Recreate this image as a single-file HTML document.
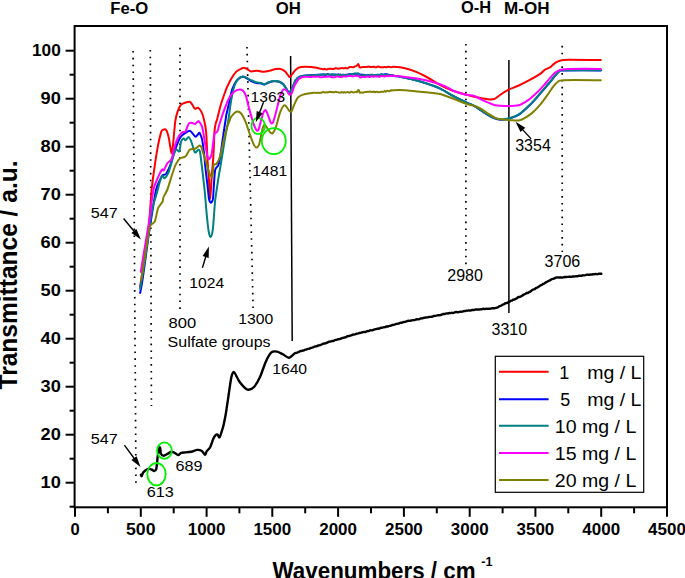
<!DOCTYPE html>
<html><head><meta charset="utf-8"><title>FTIR</title>
<style>
html,body{margin:0;padding:0;background:#fff;}
body{width:685px;height:578px;overflow:hidden;}
svg{display:block;}
text{font-family:"Liberation Sans",sans-serif;fill:#000;}
.b{font-weight:bold;}
.c{fill:none;stroke-width:2;stroke-linejoin:round;stroke-linecap:round;}
.d{stroke:#000;stroke-width:1.7;stroke-dasharray:1.6 5.23;fill:none;}
.g{fill:none;stroke:#00f000;stroke-width:1.8;}
</style></head><body>
<svg width="685" height="578" viewBox="0 0 685 578">
<rect width="685" height="578" fill="#fff"/>
<g class="d">
<line x1="133.1" y1="51" x2="136.0" y2="484"/>
<line x1="150.3" y1="49.9" x2="151.4" y2="406"/>
<line x1="180" y1="47.8" x2="180" y2="309"/>
<line x1="247" y1="47" x2="253.1" y2="308"/>
<line x1="465.9" y1="44" x2="465.9" y2="266"/>
<line x1="562.2" y1="45.8" x2="562.2" y2="252"/>
</g>
<line x1="290.6" y1="56" x2="292.2" y2="341" stroke="#000" stroke-width="1.5"/>
<line x1="508.9" y1="60" x2="508.9" y2="313" stroke="#000" stroke-width="1.5"/>
<path class="c" stroke="#ff0000" d="M140.1,287.0C140.5,284.5 142.2,273.2 143.0,268.0C143.8,262.8 145.2,253.7 146.0,248.0C146.8,242.3 148.3,232.7 149.0,225.0C149.7,217.3 150.9,197.4 151.6,190.0C152.3,182.6 153.4,175.3 154.2,169.6C155.0,163.9 156.8,152.1 157.7,147.1C158.6,142.1 160.4,134.7 161.1,132.4C161.8,130.1 162.2,130.1 162.9,129.8C163.6,129.5 165.5,129.0 166.3,130.1C167.1,131.2 168.2,135.3 168.9,138.4C169.6,141.5 170.9,152.6 171.5,153.1C172.1,153.6 172.8,146.2 173.3,141.9C173.8,137.6 174.7,125.1 175.3,121.1C175.9,117.1 176.8,113.8 177.6,111.6C178.4,109.4 180.1,105.8 181.0,104.7C181.9,103.6 183.3,103.4 184.5,103.0C185.7,102.6 188.7,101.6 189.7,101.8C190.7,102.0 191.6,103.8 192.3,104.7C193.0,105.6 194.1,108.3 194.9,108.7C195.7,109.1 197.4,107.4 198.3,107.8C199.2,108.2 200.6,110.3 201.3,111.6C202.0,112.9 202.9,115.0 203.5,117.7C204.1,120.4 205.6,125.7 206.1,131.5C206.6,137.3 207.2,154.9 207.6,161.5C208.0,168.1 208.7,176.0 209.0,180.9C209.3,185.8 209.6,197.3 209.9,198.5C210.2,199.7 210.6,193.1 210.9,190.0C211.2,186.9 211.5,179.4 211.8,175.4C212.1,171.4 212.8,163.8 213.1,160.1C213.4,156.4 213.6,151.6 213.8,147.7C214.0,143.8 214.2,134.4 214.5,131.1C214.8,127.8 215.5,124.4 215.9,122.8C216.3,121.2 217.1,119.7 217.3,119.0C217.5,118.3 217.1,119.2 217.6,117.3C218.1,115.4 220.0,107.7 220.8,104.8C221.6,101.9 223.1,97.8 223.9,95.5C224.7,93.2 226.0,89.4 227.0,87.2C228.0,85.0 229.9,81.0 231.1,78.9C232.3,76.8 234.9,73.0 236.3,71.6C237.7,70.2 240.4,69.0 241.5,68.5C242.6,68.0 243.9,67.8 244.6,67.9C245.3,68.0 246.1,68.6 247.0,69.1C247.9,69.6 249.7,71.2 251.1,71.4C252.5,71.6 255.6,70.6 257.3,70.7C259.0,70.8 261.9,71.8 263.6,71.8C265.3,71.8 268.1,71.1 269.8,70.7C271.5,70.3 274.5,69.3 276.0,69.1C277.5,68.9 279.9,68.7 281.2,69.1C282.5,69.5 284.3,70.7 285.4,71.8C286.5,72.9 288.7,76.6 289.5,77.0C290.3,77.4 290.8,75.9 291.6,74.9C292.4,73.9 294.5,70.8 295.7,69.7C296.9,68.6 298.8,67.4 300.9,67.0C303.0,66.6 308.7,66.7 311.7,67.0C314.7,67.3 321.7,69.0 323.4,69.2C325.1,69.4 324.3,68.8 324.7,68.8C325.0,68.8 325.6,69.3 326.0,69.4C326.3,69.5 326.9,69.4 327.3,69.3C327.6,69.2 328.2,68.8 328.6,68.8C328.9,68.7 329.5,68.9 329.8,68.9C330.2,68.9 330.8,68.8 331.1,68.8C331.5,68.8 332.1,68.9 332.4,68.9C332.8,69.0 333.4,69.1 333.7,69.0C334.1,68.9 334.7,68.4 335.0,68.3C335.3,68.2 336.0,68.1 336.3,68.2C336.6,68.3 337.3,68.8 337.6,68.8C337.9,68.9 338.6,68.4 338.9,68.4C339.2,68.4 339.9,68.7 340.2,68.6C340.5,68.6 341.2,67.9 341.5,67.9C341.8,67.8 342.5,68.1 342.8,68.2C343.1,68.2 343.8,68.4 344.1,68.4C344.4,68.3 345.1,67.8 345.4,67.8C345.7,67.8 346.3,68.4 346.7,68.4C347.1,68.4 347.7,68.3 348.0,68.1C348.4,68.0 349.0,67.3 349.4,67.1C349.7,67.0 350.3,66.9 350.7,66.9C351.0,66.9 351.7,67.1 352.0,67.1C352.4,67.2 353.0,67.3 353.3,67.3C353.7,67.2 354.3,66.7 354.7,66.5C355.0,66.4 355.7,66.3 356.0,66.1C356.3,66.0 356.9,65.7 357.2,65.4C357.5,65.1 358.2,64.0 358.4,64.1C358.6,64.1 358.8,65.3 359.0,65.7C359.2,66.2 359.3,67.2 359.6,67.4C359.9,67.7 360.6,67.5 360.9,67.4C361.2,67.4 361.9,67.1 362.2,67.1C362.5,67.0 363.2,67.0 363.5,67.0C363.8,67.0 364.5,66.9 364.8,66.9C365.1,66.9 365.8,67.0 366.1,67.0C366.4,67.0 367.1,66.9 367.4,66.8C367.7,66.7 368.4,66.4 368.7,66.5C369.0,66.5 369.7,67.0 370.0,67.1C370.3,67.2 371.0,66.9 371.3,66.9C371.7,66.9 372.3,67.0 372.6,67.0C373.0,66.9 373.6,66.5 373.9,66.6C374.3,66.6 374.9,67.2 375.2,67.3C375.6,67.4 376.2,67.3 376.6,67.2C376.9,67.1 377.5,66.6 377.9,66.6C378.2,66.5 378.8,66.7 379.2,66.8C379.5,66.9 380.1,67.1 380.5,67.2C380.8,67.2 381.5,67.2 381.8,67.2C382.1,67.2 382.8,67.4 383.1,67.4C383.4,67.3 384.1,66.9 384.4,66.9C384.7,66.9 385.4,67.2 385.7,67.2C386.0,67.3 386.7,67.1 387.0,67.1C387.3,67.0 388.0,66.7 388.3,66.7C388.6,66.7 389.3,66.9 389.6,66.9C389.9,67.0 390.6,67.2 390.9,67.2C391.2,67.2 391.9,67.2 392.2,67.1C392.5,67.1 391.8,66.7 393.5,66.8C395.2,66.9 401.9,67.5 405.0,68.2C408.1,68.9 413.7,70.9 416.8,72.2C419.9,73.5 425.4,76.3 428.5,78.0C431.6,79.7 436.9,83.3 440.2,85.0C443.5,86.7 449.6,89.4 453.1,90.7C456.6,92.0 462.8,93.8 466.3,94.7C469.8,95.6 476.3,97.2 479.4,97.8C482.5,98.4 487.8,99.3 489.9,99.4C492.0,99.5 493.8,99.2 495.2,98.6C496.6,98.0 498.7,95.9 500.4,94.7C502.1,93.5 505.8,91.1 508.3,89.9C510.8,88.7 516.0,86.8 518.8,85.5C521.6,84.2 526.5,81.7 529.3,80.2C532.1,78.7 537.7,75.6 539.8,74.2C541.9,72.8 543.7,70.6 545.1,69.7C546.5,68.8 549.0,68.0 550.4,67.1C551.8,66.2 554.2,63.5 555.6,62.6C557.0,61.7 559.2,60.9 560.9,60.5C562.6,60.1 563.4,59.8 568.7,59.7C574.0,59.6 596.5,60.0 600.8,60.0"/>
<path class="c" stroke="#0000ff" d="M140.1,293.0C140.4,291.7 141.3,287.1 142.0,283.0C142.7,278.9 144.2,267.7 145.0,262.0C145.8,256.3 147.2,245.6 148.0,240.0C148.8,234.4 149.9,226.7 151.0,220.0C152.1,213.3 154.8,195.3 156.0,190.0C157.2,184.7 159.1,182.0 160.0,180.0C160.9,178.0 162.2,175.8 163.0,175.0C163.8,174.2 165.1,175.2 166.0,174.0C166.9,172.8 169.0,168.4 170.0,166.0C171.0,163.6 172.4,158.4 173.3,155.7C174.2,153.0 175.8,147.8 176.7,145.4C177.6,143.0 179.3,139.1 180.2,137.6C181.1,136.1 182.3,135.0 183.6,134.1C184.9,133.2 188.4,130.7 189.7,130.7C191.0,130.7 192.3,133.3 193.1,134.1C193.9,134.9 194.9,136.9 195.7,136.7C196.5,136.5 198.6,133.3 199.2,132.9C199.8,132.5 199.6,132.9 200.0,133.8C200.4,134.7 201.5,136.6 202.1,139.4C202.7,142.2 203.7,150.7 204.2,154.6C204.7,158.5 205.0,164.2 205.5,168.4C206.0,172.6 207.1,182.3 207.6,186.4C208.1,190.5 208.6,196.8 209.0,199.0C209.4,201.2 210.3,202.5 210.7,202.8C211.1,203.1 212.0,201.6 212.3,201.0C212.6,200.4 212.9,199.9 213.1,198.0C213.3,196.1 213.5,190.2 213.8,186.4C214.1,182.6 214.6,172.6 215.2,169.8C215.8,167.0 217.4,166.8 218.0,165.7C218.6,164.6 218.9,163.9 219.4,161.5C219.9,159.1 221.0,151.4 221.5,147.7C222.0,144.0 223.0,137.5 223.5,133.8C224.0,130.1 225.2,122.5 225.6,120.0C226.0,117.5 225.8,117.3 226.3,115.0C226.8,112.7 228.3,106.2 229.1,102.8C229.9,99.4 231.2,92.2 232.2,89.3C233.2,86.4 235.2,82.6 236.3,81.0C237.4,79.4 239.5,78.0 240.5,77.4C241.5,76.8 242.9,76.7 243.6,76.8C244.3,76.9 244.9,77.2 245.9,77.8C246.9,78.4 249.7,80.3 251.1,81.0C252.5,81.7 254.9,82.7 256.3,83.0C257.7,83.3 260.4,83.4 261.5,83.6C262.6,83.8 263.6,84.6 264.6,84.5C265.6,84.4 267.6,82.9 268.8,82.5C270.0,82.1 272.5,81.4 273.9,81.3C275.3,81.2 277.8,81.3 279.1,81.7C280.4,82.1 282.2,83.0 283.3,84.2C284.4,85.4 286.6,89.4 287.4,90.5C288.2,91.6 288.8,92.9 289.5,92.5C290.2,92.1 291.8,89.0 292.6,87.3C293.4,85.6 294.7,81.5 295.7,80.1C296.7,78.7 298.4,77.2 299.9,76.6C301.4,76.0 304.0,75.8 307.1,75.5C310.2,75.2 321.1,74.6 323.4,74.5C325.7,74.4 324.3,74.9 324.6,74.9C325.0,75.0 325.5,75.0 325.9,74.9C326.2,74.8 326.8,74.2 327.1,74.1C327.4,74.0 328.0,74.1 328.3,74.2C328.6,74.3 329.2,74.8 329.5,74.9C329.9,75.0 330.4,74.8 330.8,74.8C331.1,74.8 331.7,74.8 332.0,74.8C332.3,74.7 332.9,74.5 333.2,74.5C333.5,74.5 334.1,74.7 334.4,74.7C334.8,74.8 335.3,74.8 335.7,74.8C336.0,74.8 336.6,74.8 336.9,74.7C337.2,74.7 337.8,74.4 338.1,74.4C338.4,74.4 339.0,74.6 339.3,74.6C339.7,74.7 340.2,74.6 340.6,74.6C340.9,74.7 341.5,74.9 341.8,74.9C342.1,75.0 342.7,75.2 343.0,75.2C343.3,75.2 343.9,75.2 344.2,75.2C344.6,75.1 345.1,74.9 345.5,74.8C345.8,74.8 346.4,74.8 346.7,74.8C347.0,74.7 347.7,74.5 348.0,74.4C348.3,74.4 349.0,74.2 349.3,74.1C349.6,74.0 350.3,73.9 350.6,73.9C350.9,74.0 351.6,74.2 351.9,74.2C352.2,74.2 352.9,74.0 353.2,73.9C353.5,73.9 354.2,73.8 354.5,73.8C354.8,73.9 355.5,74.2 355.8,74.1C356.1,74.1 356.8,73.7 357.1,73.7C357.4,73.6 358.0,73.4 358.4,73.6C358.8,73.7 359.6,74.6 360.0,74.8C360.4,74.9 360.9,74.6 361.2,74.6C361.6,74.6 362.2,74.9 362.5,74.9C362.8,74.9 363.4,74.7 363.8,74.7C364.1,74.8 364.7,75.0 365.0,75.1C365.3,75.2 365.9,75.5 366.2,75.6C366.6,75.6 367.2,75.4 367.5,75.3C367.8,75.2 368.4,74.9 368.8,74.9C369.1,74.9 369.7,75.5 370.0,75.6C370.3,75.6 370.9,75.4 371.3,75.4C371.6,75.4 372.2,75.3 372.5,75.3C372.9,75.3 373.4,75.4 373.8,75.4C374.1,75.3 374.7,75.2 375.0,75.2C375.4,75.1 376.0,75.2 376.3,75.1C376.6,75.0 377.2,74.6 377.6,74.7C377.9,74.7 378.5,75.1 378.8,75.1C379.2,75.2 379.8,75.2 380.1,75.1C380.4,74.9 381.0,74.3 381.4,74.3C381.7,74.2 382.3,74.7 382.6,74.7C383.0,74.8 383.5,74.7 383.9,74.6C384.2,74.6 384.8,74.4 385.1,74.3C385.5,74.3 386.1,74.3 386.4,74.3C386.7,74.3 387.3,74.4 387.7,74.5C388.0,74.6 388.6,75.0 389.0,75.1C389.3,75.2 389.9,74.9 390.3,74.9C390.6,75.0 391.2,75.4 391.6,75.4C391.9,75.5 392.5,75.2 392.8,75.2C393.2,75.3 393.8,75.8 394.1,75.9C394.5,76.0 395.1,76.1 395.4,76.1C395.8,76.1 396.4,75.9 396.7,76.0C397.1,76.0 396.0,75.8 398.0,76.2C400.0,76.6 408.3,78.3 412.0,79.2C415.7,80.1 422.2,81.9 426.0,83.2C429.8,84.5 436.6,86.9 440.2,88.6C443.8,90.3 449.6,94.1 453.1,96.0C456.6,97.9 463.7,101.3 466.3,102.5C468.9,103.7 471.1,104.3 472.8,105.2C474.5,106.1 477.5,108.0 479.4,109.3C481.3,110.6 485.2,113.4 487.3,114.6C489.4,115.8 493.1,117.9 495.2,118.6C497.3,119.3 501.0,119.9 503.1,119.8C505.2,119.7 508.8,118.7 510.9,118.0C513.0,117.3 516.7,115.9 518.8,114.6C520.9,113.3 524.6,109.9 526.7,108.0C528.8,106.1 532.5,102.4 534.6,100.1C536.7,97.8 540.4,93.4 542.5,90.9C544.6,88.4 548.7,83.8 550.4,81.7C552.1,79.6 554.4,76.6 555.6,75.2C556.8,73.8 558.4,71.8 559.5,71.2C560.6,70.6 558.0,70.5 563.5,70.4C569.0,70.3 595.8,70.4 600.8,70.4"/>
<path class="c" stroke="#008080" d="M140.1,289.0C140.5,286.7 142.2,276.9 143.0,272.0C143.8,267.1 145.2,257.6 146.0,252.0C146.8,246.4 148.1,235.9 149.0,230.0C149.9,224.1 151.4,213.0 152.5,208.0C153.6,203.0 156.1,195.8 157.0,192.5C157.9,189.2 158.8,185.3 159.5,183.0C160.2,180.7 161.3,176.2 162.0,175.6C162.7,175.0 163.7,178.8 164.6,178.2C165.5,177.6 167.9,173.8 168.9,171.3C169.9,168.8 171.5,162.1 172.4,159.2C173.3,156.3 174.9,150.7 175.8,149.7C176.7,148.7 178.6,152.4 179.3,151.4C180.0,150.4 180.4,143.6 181.0,141.9C181.6,140.2 183.0,138.6 183.6,138.4C184.2,138.2 184.7,140.4 185.4,140.2C186.1,140.0 188.0,136.9 188.8,137.1C189.6,137.3 190.6,139.9 191.4,141.9C192.2,143.9 194.0,151.3 194.9,152.3C195.8,153.3 197.6,149.8 198.3,149.7C199.0,149.6 199.5,149.3 200.0,151.8C200.5,154.3 201.5,163.8 202.1,168.4C202.7,173.0 203.7,182.2 204.2,186.4C204.7,190.6 205.2,196.5 205.5,200.0C205.8,203.5 206.2,208.8 206.6,213.0C207.0,217.2 208.2,228.5 208.7,231.7C209.2,234.9 210.2,237.2 210.7,236.9C211.2,236.6 212.4,232.5 212.8,229.6C213.2,226.7 213.7,218.9 214.0,215.0C214.3,211.1 214.7,204.5 215.2,200.0C215.7,195.5 217.3,185.7 218.0,180.9C218.7,176.1 220.1,168.7 220.8,164.3C221.5,159.9 222.8,152.1 223.5,147.7C224.2,143.3 225.6,134.8 226.3,131.1C227.0,127.4 227.8,124.1 228.4,120.0C229.0,115.9 230.3,105.2 231.1,100.7C231.9,96.2 233.3,89.0 234.3,86.1C235.3,83.2 237.3,80.2 238.4,78.9C239.5,77.6 241.6,76.6 242.6,76.4C243.6,76.2 244.8,76.9 245.9,77.4C247.0,77.9 249.7,79.5 251.1,80.1C252.5,80.7 254.9,81.8 256.3,82.2C257.7,82.6 260.4,82.9 261.5,83.2C262.6,83.5 263.6,84.3 264.6,84.2C265.6,84.1 267.6,82.6 268.8,82.2C270.0,81.8 272.5,81.2 273.9,81.1C275.3,81.0 277.8,81.1 279.1,81.5C280.4,81.9 282.2,83.0 283.3,84.2C284.4,85.4 286.6,89.4 287.4,90.5C288.2,91.6 288.8,92.9 289.5,92.5C290.2,92.1 291.8,89.0 292.6,87.3C293.4,85.6 294.7,81.5 295.7,80.1C296.7,78.7 298.4,77.2 299.9,76.6C301.4,76.0 304.0,75.8 307.1,75.5C310.2,75.2 321.1,74.7 323.4,74.5C325.7,74.3 324.3,74.3 324.6,74.3C325.0,74.3 325.5,74.6 325.9,74.6C326.2,74.6 326.8,74.4 327.1,74.5C327.4,74.5 328.0,74.7 328.3,74.7C328.6,74.7 329.2,74.8 329.5,74.7C329.9,74.7 330.4,74.3 330.8,74.3C331.1,74.2 331.7,74.1 332.0,74.2C332.3,74.3 332.9,75.0 333.2,75.0C333.5,75.1 334.1,74.6 334.4,74.5C334.8,74.5 335.3,74.4 335.7,74.5C336.0,74.6 336.6,75.2 336.9,75.2C337.2,75.3 337.8,74.8 338.1,74.8C338.4,74.8 339.0,75.1 339.3,75.1C339.7,75.2 340.2,74.9 340.6,74.8C340.9,74.8 341.5,75.1 341.8,75.0C342.1,75.0 342.7,74.6 343.0,74.6C343.3,74.6 343.9,75.0 344.2,75.1C344.6,75.2 345.1,75.3 345.5,75.3C345.8,75.3 346.4,75.1 346.7,75.0C347.0,75.0 347.7,75.1 348.0,75.0C348.3,75.0 349.0,74.9 349.3,74.8C349.6,74.7 350.3,74.1 350.6,74.1C350.9,74.0 351.6,74.5 351.9,74.5C352.2,74.5 352.9,74.3 353.2,74.2C353.5,74.1 354.2,73.9 354.5,73.8C354.8,73.6 355.5,73.3 355.8,73.3C356.1,73.4 356.8,73.9 357.1,73.9C357.4,73.9 358.1,73.3 358.4,73.4C358.7,73.5 359.0,74.2 359.2,74.5C359.4,74.8 359.7,75.4 360.0,75.5C360.3,75.7 360.9,75.4 361.2,75.4C361.6,75.4 362.2,75.6 362.5,75.6C362.8,75.5 363.4,75.1 363.8,75.1C364.1,75.1 364.7,75.5 365.0,75.5C365.3,75.5 365.9,75.1 366.2,75.2C366.6,75.2 367.2,75.5 367.5,75.6C367.8,75.6 368.4,75.6 368.8,75.5C369.1,75.4 369.7,74.9 370.0,74.8C370.3,74.7 370.9,74.8 371.3,74.8C371.6,74.8 372.2,74.8 372.5,74.8C372.9,74.9 373.4,75.4 373.8,75.5C374.1,75.5 374.7,75.0 375.0,74.9C375.4,74.9 376.0,75.1 376.3,75.0C376.6,75.0 377.2,74.7 377.6,74.7C377.9,74.7 378.5,74.8 378.8,74.8C379.2,74.8 379.8,74.7 380.1,74.7C380.4,74.6 381.0,74.6 381.4,74.6C381.7,74.6 382.3,74.7 382.6,74.7C383.0,74.8 383.5,74.7 383.9,74.7C384.2,74.7 384.8,74.9 385.1,74.9C385.5,74.9 386.1,74.6 386.4,74.7C386.7,74.7 387.3,75.0 387.7,75.1C388.0,75.1 388.6,75.1 389.0,75.2C389.3,75.3 389.9,75.5 390.3,75.5C390.6,75.5 391.2,75.5 391.6,75.4C391.9,75.4 392.5,75.1 392.8,75.1C393.2,75.2 393.8,75.8 394.1,76.0C394.5,76.1 395.1,76.2 395.4,76.2C395.8,76.3 396.4,76.4 396.7,76.4C397.1,76.4 396.0,75.8 398.0,76.2C400.0,76.6 408.3,78.3 412.0,79.2C415.7,80.1 422.2,81.9 426.0,83.2C429.8,84.5 436.6,86.9 440.2,88.6C443.8,90.3 449.6,94.1 453.1,96.0C456.6,97.9 463.7,101.3 466.3,102.5C468.9,103.7 471.1,104.3 472.8,105.2C474.5,106.1 477.5,107.9 479.4,109.1C481.3,110.3 485.2,113.2 487.3,114.4C489.4,115.6 493.1,117.6 495.2,118.3C497.3,119.0 501.0,119.7 503.1,119.6C505.2,119.5 508.8,118.5 510.9,117.8C513.0,117.1 516.7,115.7 518.8,114.4C520.9,113.1 524.6,109.7 526.7,107.8C528.8,105.9 532.5,102.2 534.6,99.9C536.7,97.6 540.4,93.2 542.5,90.7C544.6,88.2 548.7,83.6 550.4,81.5C552.1,79.4 554.4,76.4 555.6,75.0C556.8,73.6 558.4,71.6 559.5,71.0C560.6,70.4 558.0,70.3 563.5,70.2C569.0,70.1 595.8,70.2 600.8,70.2"/>
<path class="c" stroke="#ff00ff" d="M140.8,272.0C141.1,270.1 142.3,262.3 143.0,258.0C143.7,253.7 145.2,244.8 146.0,240.0C146.8,235.2 148.0,228.7 149.0,222.0C150.0,215.3 152.2,195.8 153.4,190.0C154.6,184.2 156.6,180.9 157.7,178.2C158.8,175.5 161.2,170.6 162.0,169.6C162.8,168.6 163.0,171.2 163.7,170.4C164.4,169.6 166.2,165.0 167.2,163.5C168.2,162.0 170.6,161.2 171.5,159.2C172.4,157.2 173.3,151.6 174.1,148.8C174.9,146.0 176.6,140.6 177.6,138.4C178.6,136.2 180.9,133.3 181.9,132.4C182.9,131.5 184.5,132.7 185.4,131.5C186.3,130.3 187.9,124.8 188.8,123.7C189.7,122.6 191.5,122.8 192.3,122.9C193.1,123.0 194.1,124.3 194.9,124.1C195.7,123.9 197.6,121.3 198.3,121.1C199.0,120.9 199.5,122.0 200.0,122.8C200.5,123.6 201.5,124.9 202.1,126.9C202.7,128.9 203.7,134.9 204.2,138.0C204.7,141.1 205.7,147.6 206.2,150.4C206.7,153.2 207.8,157.8 208.3,158.8C208.8,159.8 209.5,158.8 210.0,158.1C210.5,157.4 211.4,155.1 211.8,153.2C212.2,151.3 212.7,146.1 213.1,143.5C213.5,140.9 213.9,135.4 214.5,133.8C215.1,132.2 216.7,132.7 217.3,131.8C217.9,130.9 218.2,128.5 218.7,126.9C219.2,125.3 220.1,122.2 220.8,120.0C221.5,117.8 223.0,113.2 224.1,110.2C225.2,107.2 227.9,100.2 229.3,97.7C230.7,95.2 233.1,92.6 234.5,91.5C235.9,90.4 238.6,89.5 239.7,89.4C240.8,89.3 242.0,89.7 242.8,90.5C243.6,91.3 245.1,93.3 245.9,95.6C246.7,97.9 248.0,104.5 249.0,108.1C250.0,111.7 252.2,119.7 253.2,122.6C254.2,125.5 255.6,128.9 256.3,129.9C257.0,130.9 257.8,130.9 258.4,129.9C259.0,128.9 259.8,125.0 260.5,122.6C261.2,120.2 262.9,113.9 263.6,112.2C264.3,110.5 265.2,109.9 265.7,110.2C266.2,110.5 267.0,112.6 267.7,114.3C268.4,116.0 270.1,121.5 270.8,122.6C271.5,123.7 272.2,124.0 272.9,122.6C273.6,121.2 275.0,115.8 276.0,112.2C277.0,108.6 279.2,98.6 280.2,95.6C281.2,92.6 282.5,90.1 283.3,89.4C284.1,88.7 285.6,89.8 286.4,90.5C287.2,91.2 288.8,94.2 289.5,94.6C290.2,95.0 290.9,94.8 291.6,93.6C292.3,92.4 293.7,87.2 294.7,85.3C295.7,83.4 297.7,80.1 298.8,79.0C299.9,77.9 301.3,77.3 303.0,77.0C304.7,76.7 310.4,76.9 311.7,76.9C313.0,76.9 312.6,76.7 312.9,76.7C313.3,76.6 313.8,76.5 314.2,76.5C314.5,76.6 315.1,76.8 315.4,76.8C315.7,76.8 316.3,76.6 316.6,76.6C316.9,76.5 317.5,76.5 317.8,76.5C318.2,76.5 318.7,76.7 319.1,76.8C319.4,76.9 320.0,77.2 320.3,77.3C320.6,77.3 321.2,77.2 321.5,77.2C321.8,77.2 322.4,77.2 322.7,77.1C323.1,77.1 323.6,76.7 324.0,76.6C324.3,76.6 324.9,76.9 325.2,76.9C325.5,76.9 326.1,76.7 326.4,76.7C326.7,76.7 327.3,76.6 327.6,76.6C328.0,76.6 328.5,76.5 328.9,76.5C329.2,76.6 329.8,76.5 330.1,76.6C330.4,76.7 331.0,77.2 331.3,77.3C331.6,77.4 332.2,77.2 332.5,77.2C332.9,77.2 333.4,77.2 333.8,77.2C334.1,77.2 334.7,77.3 335.0,77.2C335.3,77.1 335.9,76.6 336.2,76.6C336.6,76.5 337.1,76.6 337.5,76.6C337.8,76.6 338.4,76.8 338.7,76.8C339.0,76.9 339.6,76.8 339.9,76.9C340.3,76.9 340.8,76.9 341.2,76.9C341.5,76.9 342.1,77.0 342.4,76.9C342.7,76.8 343.3,76.1 343.6,76.1C343.9,76.0 344.5,76.4 344.9,76.5C345.2,76.5 345.8,76.5 346.1,76.5C346.4,76.5 347.0,76.3 347.3,76.3C347.6,76.2 348.2,75.9 348.5,75.9C348.9,75.9 349.5,76.1 349.8,76.1C350.1,76.1 350.7,75.7 351.0,75.7C351.3,75.7 351.9,76.3 352.2,76.4C352.6,76.5 353.1,76.3 353.5,76.3C353.8,76.2 354.4,76.0 354.7,75.9C355.0,75.8 355.6,75.6 355.9,75.6C356.3,75.7 356.8,76.1 357.2,76.1C357.5,76.1 358.0,75.6 358.4,75.8C358.8,75.9 359.6,77.1 360.0,77.3C360.4,77.5 360.9,77.3 361.2,77.3C361.5,77.2 362.1,77.0 362.4,76.9C362.7,76.9 363.3,76.8 363.6,76.8C364.0,76.8 364.5,77.0 364.8,77.0C365.2,76.9 365.7,76.8 366.1,76.8C366.4,76.7 366.9,76.5 367.3,76.5C367.6,76.5 368.2,76.5 368.5,76.6C368.8,76.7 369.4,77.1 369.7,77.0C370.0,77.0 370.6,76.4 370.9,76.3C371.2,76.2 371.8,76.2 372.1,76.3C372.4,76.3 373.0,76.7 373.3,76.7C373.6,76.8 374.2,76.4 374.5,76.4C374.9,76.4 375.4,76.6 375.7,76.6C376.1,76.6 376.6,76.5 377.0,76.5C377.3,76.5 377.8,76.3 378.2,76.4C378.5,76.4 379.1,76.9 379.4,76.9C379.7,76.9 380.3,76.2 380.6,76.2C380.9,76.1 381.5,76.3 381.8,76.3C382.1,76.3 382.8,76.0 383.1,76.1C383.4,76.1 384.1,76.4 384.4,76.4C384.7,76.4 385.4,76.0 385.7,76.0C386.0,75.9 386.7,75.9 387.0,76.0C387.3,76.0 388.0,76.3 388.3,76.2C388.6,76.2 389.3,75.8 389.6,75.8C389.9,75.7 390.6,75.9 390.9,75.9C391.2,76.0 391.9,76.2 392.2,76.1C392.5,76.1 391.8,75.6 393.5,75.7C395.2,75.8 401.9,76.5 405.0,76.9C408.1,77.3 413.4,77.9 416.8,78.5C420.2,79.1 427.1,80.5 430.8,81.5C434.5,82.5 441.9,85.0 444.9,86.2C447.9,87.4 450.2,89.6 453.1,90.7C456.0,91.8 463.5,94.0 466.3,94.7C469.1,95.4 471.7,95.1 474.2,96.0C476.7,96.9 481.9,100.0 484.7,101.2C487.5,102.4 492.4,104.6 495.2,105.2C498.0,105.8 502.6,106.0 505.7,106.0C508.8,106.0 516.0,105.8 518.8,105.2C521.6,104.6 524.6,102.6 526.7,101.2C528.8,99.8 532.5,96.6 534.6,94.7C536.7,92.8 540.4,89.1 542.5,86.8C544.6,84.5 548.7,79.5 550.4,77.6C552.1,75.7 554.2,73.4 555.6,72.3C557.0,71.2 559.2,70.2 560.9,69.7C562.6,69.2 563.4,69.0 568.7,68.9C574.0,68.8 596.5,68.9 600.8,68.9"/>
<path class="c" stroke="#808000" d="M141.2,280.0C141.6,277.6 143.2,266.8 144.0,262.0C144.8,257.2 146.1,248.8 146.9,244.0C147.7,239.2 149.2,229.0 150.2,226.0C151.2,223.0 153.6,224.1 154.7,221.7C155.8,219.3 157.0,210.9 158.1,208.2C159.2,205.5 161.9,203.0 162.6,201.5C163.3,200.0 162.9,198.5 163.5,197.0C164.1,195.5 166.1,192.7 167.2,190.0C168.3,187.3 170.4,179.9 171.5,176.5C172.6,173.1 174.6,166.8 175.8,164.4C177.0,162.0 178.9,159.3 180.2,158.3C181.5,157.3 184.1,157.7 185.4,156.6C186.7,155.5 188.4,150.7 189.7,149.7C191.0,148.7 193.6,149.3 194.9,148.8C196.2,148.3 198.5,146.1 199.2,145.7C199.9,145.3 199.7,145.4 200.0,145.6C200.3,145.8 201.0,146.2 201.4,147.0C201.8,147.8 202.3,150.1 202.8,151.8C203.3,153.5 204.8,157.7 205.5,160.1C206.2,162.5 207.6,167.8 208.3,169.8C209.0,171.8 209.9,174.5 210.4,175.4C210.9,176.3 211.8,177.3 212.2,176.7C212.6,176.1 212.9,172.8 213.1,171.2C213.3,169.6 213.4,165.4 213.8,164.5C214.2,163.6 215.3,164.7 215.9,164.3C216.5,163.9 217.4,162.6 218.0,161.5C218.6,160.4 219.6,157.8 220.1,156.0C220.6,154.2 221.5,150.5 222.1,147.7C222.7,144.9 224.2,138.2 224.9,135.2C225.6,132.2 227.0,127.5 227.7,125.5C228.4,123.5 229.3,121.2 229.8,120.0C230.3,118.8 230.6,117.4 231.4,116.4C232.2,115.4 234.6,112.8 235.6,112.2C236.6,111.6 237.9,111.5 238.7,111.8C239.5,112.1 240.8,112.9 241.8,114.3C242.8,115.7 244.8,119.8 245.9,122.6C247.0,125.4 249.0,132.1 250.1,135.1C251.2,138.1 253.3,143.7 254.2,145.4C255.1,147.1 256.2,147.8 256.9,147.5C257.6,147.2 258.7,145.9 259.4,143.4C260.1,140.9 261.8,131.3 262.5,128.8C263.2,126.3 263.9,124.7 264.6,124.7C265.3,124.7 266.9,127.7 267.7,128.8C268.5,129.9 270.1,132.4 270.8,133.0C271.5,133.6 272.2,133.8 272.9,133.0C273.6,132.2 275.0,129.6 276.0,126.8C277.0,124.0 279.2,115.0 280.2,112.2C281.2,109.4 282.6,106.9 283.3,106.0C284.0,105.1 284.9,105.3 285.4,105.6C285.9,105.9 286.9,107.4 287.4,108.1C287.9,108.8 288.9,110.8 289.5,111.2C290.1,111.6 291.0,111.9 291.6,111.2C292.2,110.5 292.9,107.8 293.7,106.0C294.5,104.2 296.6,99.2 297.8,97.7C299.0,96.2 300.8,95.3 303.0,94.6C305.2,93.9 312.4,93.0 314.0,92.8C315.6,92.6 314.9,92.8 315.3,92.8C315.6,92.8 316.2,92.9 316.5,92.9C316.9,92.9 317.5,92.8 317.8,92.8C318.2,92.9 318.8,92.9 319.1,92.9C319.4,92.9 320.0,92.7 320.4,92.7C320.7,92.6 321.3,92.8 321.6,92.7C322.0,92.6 322.6,91.9 322.9,91.9C323.2,91.8 323.8,92.1 324.2,92.2C324.5,92.3 325.1,92.5 325.5,92.5C325.8,92.5 326.4,92.2 326.7,92.2C327.1,92.2 327.7,92.4 328.0,92.4C328.3,92.3 328.9,91.7 329.2,91.7C329.6,91.6 330.2,92.0 330.5,92.0C330.8,92.1 331.4,91.9 331.7,91.9C332.1,91.9 332.7,92.1 333.0,92.2C333.3,92.2 333.9,92.3 334.2,92.2C334.6,92.2 335.1,91.8 335.5,91.8C335.8,91.7 336.4,91.9 336.7,92.0C337.1,92.0 337.6,92.0 338.0,92.1C338.3,92.2 338.9,92.6 339.2,92.7C339.6,92.7 340.1,92.7 340.5,92.6C340.8,92.5 341.4,92.0 341.7,92.1C342.0,92.1 342.6,92.7 343.0,92.7C343.3,92.7 343.9,92.1 344.2,92.1C344.5,92.1 345.1,92.6 345.5,92.6C345.8,92.6 346.4,92.2 346.7,92.2C347.0,92.1 347.6,91.9 348.0,92.0C348.3,92.0 348.9,92.7 349.3,92.7C349.6,92.7 350.2,92.1 350.6,92.0C350.9,91.9 351.5,91.8 351.9,91.9C352.2,92.0 352.8,92.4 353.1,92.5C353.5,92.6 354.1,92.4 354.4,92.3C354.8,92.2 355.4,91.7 355.7,91.7C356.1,91.7 356.7,92.3 357.0,92.2C357.3,92.1 357.5,91.1 357.7,90.8C357.9,90.5 358.2,89.9 358.4,89.9C358.6,89.9 358.9,90.4 359.1,90.7C359.3,91.1 359.5,92.5 359.8,92.7C360.1,92.9 360.7,92.4 361.1,92.4C361.4,92.4 362.0,92.6 362.4,92.6C362.7,92.7 363.3,92.6 363.6,92.5C364.0,92.5 364.6,92.0 364.9,92.0C365.2,91.9 365.8,92.0 366.2,92.0C366.5,92.0 367.1,91.8 367.4,91.8C367.8,91.7 368.4,91.7 368.7,91.7C369.1,91.7 369.7,91.6 370.0,91.6C370.3,91.6 370.9,91.8 371.2,91.8C371.5,91.9 372.1,92.1 372.4,92.1C372.8,92.1 373.3,91.5 373.7,91.6C374.0,91.6 374.6,92.1 374.9,92.2C375.2,92.2 375.8,91.9 376.1,91.9C376.4,91.8 377.0,91.8 377.3,91.8C377.7,91.9 378.2,92.3 378.6,92.3C378.9,92.3 379.5,92.0 379.8,92.0C380.1,91.9 380.7,91.9 381.0,91.8C381.3,91.8 381.9,91.8 382.2,91.8C382.6,91.8 383.2,91.9 383.5,91.8C383.8,91.7 384.4,91.1 384.8,91.1C385.1,91.0 385.7,91.8 386.0,91.7C386.3,91.7 386.9,90.7 387.2,90.7C387.6,90.6 388.2,91.1 388.5,91.1C388.8,91.2 389.4,91.2 389.8,91.1C390.1,90.9 390.7,90.2 391.0,90.1C391.3,90.1 391.9,90.6 392.2,90.6C392.6,90.6 391.8,90.3 393.5,90.2C395.2,90.1 401.9,90.0 405.0,90.2C408.1,90.4 413.7,91.1 416.8,91.4C419.9,91.7 425.4,92.2 428.5,92.5C431.6,92.8 436.9,93.2 440.2,94.0C443.5,94.8 449.6,97.3 453.1,98.6C456.6,99.9 463.7,103.0 466.3,103.9C468.9,104.8 471.1,104.9 472.8,105.4C474.5,105.9 477.5,106.8 479.4,107.8C481.3,108.8 485.2,111.8 487.3,113.1C489.4,114.4 493.1,116.9 495.2,117.8C497.3,118.7 501.0,119.3 503.1,119.6C505.2,119.9 508.8,120.1 510.9,120.2C513.0,120.3 517.0,120.7 518.8,120.4C520.6,120.1 522.3,119.3 524.1,118.3C525.9,117.3 529.9,114.8 532.0,113.1C534.1,111.4 537.7,107.7 539.8,105.2C541.9,102.7 545.9,97.2 547.7,94.7C549.5,92.2 551.6,88.6 553.0,86.8C554.4,85.0 556.8,82.4 558.2,81.5C559.6,80.6 557.8,80.4 563.5,80.2C569.2,80.0 595.8,80.2 600.8,80.2"/>
<path class="c" stroke="#000000" style="stroke-width:2.4" d="M140.9,474.7C141.0,474.9 141.4,476.5 141.7,476.2C142.0,475.9 142.6,473.4 143.1,472.6C143.6,471.8 144.6,470.9 145.3,470.4C146.0,469.9 147.3,469.0 148.2,468.9C149.1,468.8 151.1,469.3 151.9,469.6C152.7,469.9 153.5,471.2 154.1,471.1C154.7,471.0 155.8,470.8 156.3,468.9C156.8,467.0 157.3,459.3 157.7,456.5C158.1,453.7 158.9,448.8 159.2,447.7C159.5,446.6 160.1,447.7 160.3,448.5C160.5,449.3 160.5,452.6 160.9,453.6C161.3,454.6 162.7,455.8 163.6,455.8C164.5,455.8 167.0,454.1 168.0,453.6C169.0,453.1 170.1,452.0 170.9,451.8C171.7,451.6 172.8,452.0 173.8,452.4C174.8,452.8 177.2,454.9 178.2,455.0C179.2,455.1 180.1,453.1 181.1,452.8C182.1,452.5 184.1,452.5 185.5,452.4C186.9,452.3 189.7,452.1 191.3,451.8C192.9,451.5 195.8,450.0 197.2,449.9C198.6,449.8 200.4,450.1 201.5,450.7C202.6,451.3 204.5,454.6 205.2,454.7C205.9,454.8 205.9,452.4 206.6,451.4C207.3,450.4 209.4,448.7 210.3,447.0C211.2,445.3 212.5,440.6 213.2,439.0C213.9,437.4 214.8,435.9 215.4,435.3C216.0,434.7 217.1,434.3 217.6,434.6C218.1,434.9 218.8,437.7 219.3,437.5C219.8,437.3 220.7,434.7 221.2,433.1C221.7,431.5 222.8,428.2 223.4,425.8C224.0,423.4 225.0,418.2 225.6,415.0C226.2,411.8 226.8,407.0 227.6,401.9C228.4,396.8 230.5,381.1 231.4,377.1C232.3,373.1 233.1,371.7 234.1,372.2C235.1,372.7 237.6,378.9 239.0,381.0C240.4,383.1 243.5,386.6 244.8,387.8C246.1,389.0 247.3,389.8 248.6,389.7C249.9,389.6 252.8,388.4 254.3,386.7C255.8,385.0 258.5,380.4 260.0,377.1C261.5,373.8 264.2,365.2 265.7,361.9C267.2,358.6 269.9,353.8 271.4,352.4C272.9,351.0 275.6,351.3 277.1,351.6C278.6,351.9 281.3,353.5 282.9,354.3C284.5,355.1 287.3,357.8 288.9,357.7C290.5,357.6 293.9,353.8 294.9,353.2C295.9,352.6 295.7,353.1 296.0,353.0C296.4,352.9 296.9,352.8 297.2,352.6C297.5,352.5 298.0,352.2 298.3,352.1C298.6,351.9 299.2,351.7 299.5,351.5C299.8,351.4 300.3,351.1 300.6,351.0C300.9,350.9 301.5,351.1 301.8,351.0C302.1,351.0 302.6,350.6 302.9,350.5C303.2,350.5 303.8,350.4 304.1,350.3C304.4,350.2 304.9,349.8 305.2,349.7C305.5,349.6 306.1,349.7 306.4,349.6C306.7,349.5 307.2,349.0 307.5,348.9C307.8,348.8 308.3,348.9 308.7,348.9C309.0,348.8 309.5,348.6 309.8,348.4C310.1,348.3 310.7,348.0 311.0,347.9C311.3,347.7 311.8,347.6 312.1,347.6C312.4,347.5 313.0,347.4 313.3,347.3C313.6,347.1 314.1,346.7 314.5,346.6C314.8,346.5 315.3,346.5 315.6,346.4C315.9,346.4 316.5,346.3 316.8,346.2C317.1,346.1 317.6,345.6 318.0,345.5C318.3,345.4 318.8,345.5 319.1,345.4C319.4,345.4 320.0,345.1 320.3,345.0C320.6,344.9 321.1,344.8 321.4,344.7C321.8,344.6 322.3,344.2 322.6,344.0C322.9,343.8 323.5,343.5 323.8,343.5C324.1,343.4 324.6,343.6 324.9,343.5C325.3,343.5 325.8,343.3 326.1,343.1C326.4,343.0 327.0,342.7 327.3,342.5C327.6,342.4 328.1,342.1 328.4,341.9C328.7,341.8 329.3,341.7 329.6,341.6C329.9,341.6 330.5,341.6 330.8,341.5C331.1,341.4 331.6,341.0 332.0,341.0C332.3,340.9 332.8,341.1 333.1,341.0C333.5,340.9 334.0,340.6 334.3,340.4C334.6,340.3 335.2,339.9 335.5,339.9C335.8,339.8 336.4,339.9 336.7,339.8C337.0,339.7 337.6,339.3 337.9,339.2C338.2,339.2 338.7,339.3 339.0,339.2C339.4,339.2 339.9,339.0 340.2,338.9C340.5,338.7 341.1,338.4 341.4,338.3C341.7,338.2 342.3,338.1 342.6,338.0C342.9,337.9 343.5,337.8 343.8,337.7C344.1,337.6 344.6,337.5 345.0,337.4C345.3,337.3 345.8,337.3 346.1,337.2C346.4,337.0 347.0,336.4 347.3,336.2C347.6,336.1 348.2,336.1 348.5,336.1C348.8,336.0 349.4,336.0 349.7,335.9C350.0,335.8 350.5,335.4 350.9,335.3C351.2,335.2 351.7,335.3 352.0,335.2C352.4,335.0 352.9,334.6 353.2,334.5C353.5,334.4 354.1,334.7 354.4,334.6C354.7,334.6 355.3,334.3 355.6,334.1C355.9,334.0 356.5,333.7 356.8,333.6C357.1,333.5 357.6,333.7 358.0,333.6C358.3,333.6 358.8,333.3 359.1,333.1C359.5,333.0 360.0,332.9 360.3,332.8C360.6,332.7 361.2,332.8 361.5,332.7C361.8,332.6 362.4,332.3 362.7,332.2C363.0,332.1 363.6,332.0 363.9,331.9C364.2,331.9 364.8,332.1 365.1,332.0C365.4,332.0 365.9,331.8 366.3,331.7C366.6,331.5 367.1,331.0 367.4,331.0C367.8,330.9 368.3,331.2 368.6,331.1C368.9,331.1 369.5,330.5 369.8,330.4C370.1,330.3 370.7,330.3 371.0,330.3C371.3,330.3 371.9,330.4 372.2,330.4C372.5,330.3 373.1,330.0 373.4,329.9C373.7,329.8 374.2,329.5 374.6,329.4C374.9,329.3 375.4,329.3 375.7,329.2C376.1,329.1 376.6,329.0 376.9,328.9C377.2,328.8 377.8,328.5 378.1,328.5C378.4,328.4 379.0,328.8 379.3,328.7C379.6,328.6 380.2,328.0 380.5,327.8C380.8,327.7 381.3,327.8 381.7,327.7C382.0,327.7 382.5,327.7 382.8,327.6C383.2,327.6 383.7,327.2 384.0,327.1C384.3,327.1 384.9,327.3 385.2,327.2C385.5,327.1 386.1,326.5 386.4,326.4C386.7,326.3 387.3,326.6 387.6,326.6C387.9,326.5 388.4,326.3 388.7,326.2C389.1,326.1 389.6,325.8 389.9,325.8C390.2,325.7 390.8,325.7 391.1,325.6C391.4,325.5 392.0,325.1 392.3,325.0C392.6,324.9 393.2,325.0 393.5,324.9C393.8,324.9 394.3,324.7 394.7,324.6C395.0,324.5 395.5,324.3 395.8,324.1C396.1,324.0 396.7,323.9 397.0,323.8C397.3,323.7 397.9,323.7 398.2,323.6C398.5,323.6 399.1,323.3 399.4,323.2C399.7,323.0 400.2,322.7 400.6,322.7C400.9,322.6 401.4,322.8 401.7,322.8C402.1,322.7 402.6,322.3 402.9,322.2C403.2,322.1 403.8,322.0 404.1,322.0C404.4,322.0 405.0,322.0 405.3,321.9C405.6,321.8 406.1,321.5 406.5,321.3C406.8,321.2 407.3,321.1 407.6,321.0C408.0,320.9 408.5,320.8 408.8,320.8C409.1,320.8 409.7,320.9 410.0,320.9C410.3,320.8 410.9,320.6 411.2,320.5C411.5,320.4 412.1,320.2 412.4,320.2C412.7,320.1 413.2,320.1 413.5,320.1C413.9,320.1 414.4,320.2 414.7,320.1C415.0,320.0 415.6,319.6 415.9,319.5C416.2,319.4 416.8,319.3 417.1,319.3C417.4,319.3 418.0,319.4 418.3,319.4C418.6,319.3 419.1,319.1 419.5,319.0C419.8,318.9 420.3,318.6 420.6,318.5C420.9,318.5 421.5,318.5 421.8,318.4C422.1,318.4 422.7,318.3 423.0,318.2C423.3,318.1 423.9,317.8 424.2,317.7C424.5,317.7 425.0,317.7 425.4,317.6C425.7,317.6 426.2,317.4 426.5,317.4C426.9,317.3 427.4,317.5 427.7,317.4C428.0,317.4 428.6,317.0 428.9,316.9C429.2,316.8 429.8,316.9 430.1,316.9C430.4,316.9 431.0,316.9 431.3,316.8C431.6,316.8 432.2,316.7 432.5,316.6C432.8,316.5 433.4,316.1 433.7,316.0C434.0,315.9 434.6,316.0 434.9,315.9C435.2,315.9 435.7,315.6 436.1,315.6C436.4,315.5 436.9,315.4 437.3,315.4C437.6,315.3 438.1,315.2 438.5,315.2C438.8,315.2 439.3,315.2 439.6,315.2C440.0,315.1 440.5,315.1 440.8,315.0C441.2,314.9 441.7,314.5 442.0,314.4C442.4,314.3 442.9,314.1 443.2,314.0C443.5,314.0 444.1,314.1 444.4,314.1C444.7,314.0 445.3,313.7 445.6,313.6C445.9,313.5 446.5,313.4 446.8,313.4C447.1,313.4 447.7,313.6 448.0,313.6C448.3,313.5 448.9,313.0 449.2,313.0C449.5,312.9 450.1,313.2 450.4,313.2C450.7,313.1 451.3,312.8 451.6,312.8C452.0,312.8 452.5,313.0 452.9,313.0C453.2,313.0 453.7,312.9 454.1,312.7C454.4,312.6 455.0,312.2 455.3,312.1C455.6,312.0 456.2,312.0 456.5,312.0C456.8,312.0 457.4,312.3 457.7,312.3C458.0,312.3 458.6,312.0 458.9,311.9C459.3,311.8 459.8,311.7 460.1,311.7C460.5,311.6 461.0,311.7 461.4,311.7C461.7,311.7 462.3,311.6 462.6,311.6C462.9,311.5 463.5,311.3 463.8,311.2C464.1,311.1 464.7,311.1 465.0,311.0C465.3,311.0 465.9,310.7 466.2,310.7C466.6,310.6 467.1,310.7 467.4,310.7C467.8,310.6 468.3,310.4 468.7,310.4C469.0,310.4 469.6,310.5 469.9,310.5C470.2,310.5 470.8,310.4 471.1,310.4C471.4,310.3 472.0,310.0 472.3,309.9C472.6,309.9 473.2,310.1 473.5,310.1C473.9,310.0 474.4,309.7 474.8,309.6C475.1,309.5 475.6,309.5 476.0,309.5C476.3,309.5 476.9,309.6 477.2,309.6C477.5,309.6 478.1,309.4 478.4,309.4C478.7,309.4 479.3,309.6 479.6,309.5C480.0,309.5 480.6,309.3 480.9,309.3C481.2,309.2 481.8,309.3 482.1,309.2C482.5,309.2 483.1,308.8 483.4,308.8C483.7,308.8 484.3,309.1 484.6,309.1C485.0,309.1 485.6,308.6 485.9,308.6C486.2,308.5 486.8,308.7 487.1,308.8C487.5,308.8 488.1,308.9 488.4,308.8C488.7,308.8 489.3,308.8 489.6,308.7C490.0,308.7 490.6,308.7 490.9,308.6C491.2,308.6 491.8,308.3 492.1,308.3C492.5,308.2 493.1,308.3 493.4,308.3C493.7,308.3 494.3,308.3 494.6,308.3C495.0,308.2 495.6,307.9 495.9,307.8C496.2,307.7 496.8,307.8 497.2,307.7C497.5,307.6 498.1,307.2 498.4,307.0C498.8,306.8 499.4,306.3 499.7,306.2C500.1,306.0 500.7,305.9 501.0,305.8C501.3,305.6 501.8,305.2 502.1,305.0C502.4,304.9 502.9,304.5 503.2,304.4C503.5,304.3 504.0,304.3 504.3,304.1C504.6,304.0 505.1,303.3 505.4,303.2C505.7,303.1 506.2,303.2 506.5,303.1C506.8,303.0 507.3,302.9 507.6,302.7C507.9,302.5 508.4,301.9 508.7,301.8C509.0,301.6 509.5,301.8 509.8,301.6C510.1,301.5 510.7,300.7 511.0,300.6C511.3,300.5 511.8,300.7 512.1,300.6C512.4,300.4 512.9,299.8 513.2,299.7C513.5,299.6 514.0,299.7 514.3,299.6C514.6,299.5 515.2,298.9 515.5,298.8C515.8,298.6 516.3,298.7 516.6,298.5C516.9,298.4 517.4,297.7 517.7,297.5C518.0,297.3 518.5,297.1 518.8,297.0C519.1,296.9 519.7,297.0 520.0,296.9C520.3,296.8 520.8,296.5 521.1,296.3C521.4,296.1 521.9,295.9 522.2,295.7C522.5,295.5 523.0,295.0 523.3,294.8C523.6,294.6 524.1,294.4 524.4,294.3C524.7,294.2 525.3,294.0 525.6,293.8C525.9,293.6 526.4,293.1 526.7,293.0C527.0,292.9 527.5,293.1 527.8,293.0C528.1,292.9 528.6,292.4 528.9,292.2C529.2,292.0 529.8,291.9 530.1,291.7C530.4,291.5 530.9,291.2 531.2,291.0C531.5,290.7 532.0,290.3 532.3,290.1C532.6,289.9 533.1,289.5 533.4,289.4C533.7,289.2 534.3,289.3 534.6,289.2C534.9,289.0 535.4,288.4 535.7,288.2C536.0,288.0 536.5,288.0 536.8,287.8C537.1,287.7 537.6,287.3 537.9,287.2C538.1,287.0 538.6,286.8 538.9,286.6C539.2,286.4 539.7,285.9 540.0,285.7C540.3,285.5 540.8,285.2 541.1,285.1C541.3,285.0 541.8,284.9 542.1,284.8C542.4,284.6 542.9,284.0 543.2,283.9C543.5,283.7 544.0,283.7 544.2,283.6C544.5,283.4 545.0,282.9 545.3,282.7C545.6,282.5 546.1,282.3 546.4,282.2C546.7,282.0 547.2,281.6 547.4,281.5C547.7,281.4 548.2,281.3 548.5,281.1C548.8,281.0 549.3,280.6 549.6,280.5C549.9,280.3 550.5,280.0 550.8,279.8C551.0,279.6 551.6,279.3 551.9,279.2C552.2,279.1 552.7,278.9 553.0,278.8C553.3,278.7 554.0,278.6 554.4,278.4C554.8,278.3 555.4,277.7 555.8,277.6C556.2,277.4 556.8,277.4 557.2,277.4C557.6,277.4 558.2,277.5 558.6,277.5C559.0,277.5 559.7,277.4 560.0,277.4C560.3,277.5 560.9,277.5 561.2,277.5C561.5,277.6 562.1,277.6 562.4,277.6C562.7,277.5 563.3,277.4 563.6,277.3C563.9,277.3 564.5,277.1 564.8,277.0C565.1,277.0 565.7,277.0 566.0,277.0C566.3,277.0 567.0,276.9 567.3,276.9C567.6,276.9 568.3,276.9 568.6,276.8C568.9,276.8 569.6,276.7 569.9,276.7C570.2,276.7 570.9,276.9 571.2,276.9C571.5,276.9 572.2,276.6 572.5,276.5C572.8,276.5 573.5,276.5 573.8,276.5C574.1,276.4 574.8,276.4 575.1,276.4C575.4,276.3 576.1,276.2 576.4,276.2C576.7,276.2 577.4,276.2 577.7,276.2C578.0,276.1 578.6,275.8 579.0,275.8C579.3,275.7 579.9,275.8 580.3,275.8C580.6,275.8 581.2,275.9 581.6,275.9C581.9,275.8 582.5,275.3 582.9,275.2C583.2,275.2 583.8,275.4 584.1,275.4C584.5,275.3 585.1,275.1 585.4,275.1C585.8,275.0 586.4,274.8 586.7,274.7C587.1,274.7 587.7,274.6 588.0,274.6C588.4,274.6 589.0,274.9 589.3,274.9C589.6,274.8 590.2,274.4 590.5,274.4C590.8,274.3 591.4,274.7 591.7,274.6C592.0,274.6 592.6,274.2 592.9,274.2C593.2,274.1 593.8,274.3 594.1,274.2C594.4,274.2 595.0,273.9 595.3,273.9C595.6,273.9 596.2,274.1 596.5,274.1C596.8,274.2 597.4,274.2 597.7,274.2C598.0,274.1 598.6,273.8 598.9,273.7C599.2,273.7 599.8,273.8 600.1,273.8C600.4,273.8 601.1,273.7 601.3,273.7"/>
<ellipse class="g" cx="258.2" cy="126" rx="6.7" ry="8.2"/>
<ellipse class="g" cx="273.8" cy="141.1" rx="12.0" ry="13.0"/>
<ellipse class="g" cx="164.4" cy="450.6" rx="7.4" ry="8.2"/>
<ellipse class="g" cx="156.5" cy="474.2" rx="9.2" ry="11.2"/>
<rect x="74.6" y="26.0" width="592.4" height="481.3" fill="none" stroke="#000" stroke-width="2"/>
<g stroke="#000" stroke-width="2">
<line x1="75.0" y1="507.3" x2="75.0" y2="516.8"/>
<line x1="140.8" y1="507.3" x2="140.8" y2="516.8"/>
<line x1="206.6" y1="507.3" x2="206.6" y2="516.8"/>
<line x1="272.3" y1="507.3" x2="272.3" y2="516.8"/>
<line x1="338.1" y1="507.3" x2="338.1" y2="516.8"/>
<line x1="403.9" y1="507.3" x2="403.9" y2="516.8"/>
<line x1="469.7" y1="507.3" x2="469.7" y2="516.8"/>
<line x1="535.4" y1="507.3" x2="535.4" y2="516.8"/>
<line x1="601.2" y1="507.3" x2="601.2" y2="516.8"/>
<line x1="667.0" y1="507.3" x2="667.0" y2="516.8"/>
<line x1="107.9" y1="507.3" x2="107.9" y2="513.3"/>
<line x1="173.7" y1="507.3" x2="173.7" y2="513.3"/>
<line x1="239.4" y1="507.3" x2="239.4" y2="513.3"/>
<line x1="305.2" y1="507.3" x2="305.2" y2="513.3"/>
<line x1="371.0" y1="507.3" x2="371.0" y2="513.3"/>
<line x1="436.8" y1="507.3" x2="436.8" y2="513.3"/>
<line x1="502.6" y1="507.3" x2="502.6" y2="513.3"/>
<line x1="568.3" y1="507.3" x2="568.3" y2="513.3"/>
<line x1="634.1" y1="507.3" x2="634.1" y2="513.3"/>
<line x1="74.6" y1="482.7" x2="65.6" y2="482.7"/>
<line x1="74.6" y1="434.7" x2="65.6" y2="434.7"/>
<line x1="74.6" y1="386.7" x2="65.6" y2="386.7"/>
<line x1="74.6" y1="338.7" x2="65.6" y2="338.7"/>
<line x1="74.6" y1="290.7" x2="65.6" y2="290.7"/>
<line x1="74.6" y1="242.7" x2="65.6" y2="242.7"/>
<line x1="74.6" y1="194.7" x2="65.6" y2="194.7"/>
<line x1="74.6" y1="146.7" x2="65.6" y2="146.7"/>
<line x1="74.6" y1="98.7" x2="65.6" y2="98.7"/>
<line x1="74.6" y1="50.7" x2="65.6" y2="50.7"/>
<line x1="74.6" y1="506.7" x2="69.6" y2="506.7"/>
<line x1="74.6" y1="458.7" x2="69.6" y2="458.7"/>
<line x1="74.6" y1="410.7" x2="69.6" y2="410.7"/>
<line x1="74.6" y1="362.7" x2="69.6" y2="362.7"/>
<line x1="74.6" y1="314.7" x2="69.6" y2="314.7"/>
<line x1="74.6" y1="266.7" x2="69.6" y2="266.7"/>
<line x1="74.6" y1="218.7" x2="69.6" y2="218.7"/>
<line x1="74.6" y1="170.7" x2="69.6" y2="170.7"/>
<line x1="74.6" y1="122.7" x2="69.6" y2="122.7"/>
<line x1="74.6" y1="74.7" x2="69.6" y2="74.7"/>
</g>
<text x="75.0" y="535.4" font-size="15.6" class="b" text-anchor="middle" textLength="9.2" lengthAdjust="spacingAndGlyphs">0</text>
<text x="140.8" y="535.4" font-size="15.6" class="b" text-anchor="middle" textLength="29.5" lengthAdjust="spacingAndGlyphs">500</text>
<text x="206.6" y="535.4" font-size="15.6" class="b" text-anchor="middle" textLength="37.8" lengthAdjust="spacingAndGlyphs">1000</text>
<text x="272.3" y="535.4" font-size="15.6" class="b" text-anchor="middle" textLength="37.8" lengthAdjust="spacingAndGlyphs">1500</text>
<text x="338.1" y="535.4" font-size="15.6" class="b" text-anchor="middle" textLength="37.8" lengthAdjust="spacingAndGlyphs">2000</text>
<text x="403.9" y="535.4" font-size="15.6" class="b" text-anchor="middle" textLength="37.8" lengthAdjust="spacingAndGlyphs">2500</text>
<text x="469.7" y="535.4" font-size="15.6" class="b" text-anchor="middle" textLength="37.8" lengthAdjust="spacingAndGlyphs">3000</text>
<text x="535.4" y="535.4" font-size="15.6" class="b" text-anchor="middle" textLength="37.8" lengthAdjust="spacingAndGlyphs">3500</text>
<text x="601.2" y="535.4" font-size="15.6" class="b" text-anchor="middle" textLength="37.8" lengthAdjust="spacingAndGlyphs">4000</text>
<text x="667.0" y="535.4" font-size="15.6" class="b" text-anchor="middle" textLength="37.8" lengthAdjust="spacingAndGlyphs">4500</text>
<text x="60.8" y="487.5" font-size="15.6" class="b" text-anchor="end" textLength="20.3" lengthAdjust="spacingAndGlyphs">10</text>
<text x="60.8" y="439.5" font-size="15.6" class="b" text-anchor="end" textLength="20.3" lengthAdjust="spacingAndGlyphs">20</text>
<text x="60.8" y="391.5" font-size="15.6" class="b" text-anchor="end" textLength="20.3" lengthAdjust="spacingAndGlyphs">30</text>
<text x="60.8" y="343.5" font-size="15.6" class="b" text-anchor="end" textLength="20.3" lengthAdjust="spacingAndGlyphs">40</text>
<text x="60.8" y="295.5" font-size="15.6" class="b" text-anchor="end" textLength="20.3" lengthAdjust="spacingAndGlyphs">50</text>
<text x="60.8" y="247.5" font-size="15.6" class="b" text-anchor="end" textLength="20.3" lengthAdjust="spacingAndGlyphs">60</text>
<text x="60.8" y="199.5" font-size="15.6" class="b" text-anchor="end" textLength="20.3" lengthAdjust="spacingAndGlyphs">70</text>
<text x="60.8" y="151.5" font-size="15.6" class="b" text-anchor="end" textLength="20.3" lengthAdjust="spacingAndGlyphs">80</text>
<text x="60.8" y="103.5" font-size="15.6" class="b" text-anchor="end" textLength="20.3" lengthAdjust="spacingAndGlyphs">90</text>
<text x="60.8" y="55.5" font-size="15.6" class="b" text-anchor="end" textLength="28.8" lengthAdjust="spacingAndGlyphs">100</text>
<text class="b" font-size="26" transform="translate(17.4,275) rotate(-90)" text-anchor="middle" textLength="229" lengthAdjust="spacingAndGlyphs">Transmittance / a.u.</text>
<text class="b" font-size="24" x="272.6" y="578.5" textLength="203" lengthAdjust="spacingAndGlyphs">Wavenumbers / cm</text>
<text class="b" font-size="13" x="481.3" y="566" textLength="11.2" lengthAdjust="spacingAndGlyphs">-1</text>
<text x="110.3" y="13.9" font-size="16" class="b" textLength="38" lengthAdjust="spacingAndGlyphs">Fe-O</text>
<text x="275.8" y="13.9" font-size="16" class="b" textLength="25" lengthAdjust="spacingAndGlyphs">OH</text>
<text x="461" y="12.7" font-size="16" class="b" textLength="30" lengthAdjust="spacingAndGlyphs">O-H</text>
<text x="504" y="13.8" font-size="16" class="b" textLength="45.5" lengthAdjust="spacingAndGlyphs">M-OH</text>
<text x="90.8" y="218" font-size="15.2" textLength="27" lengthAdjust="spacingAndGlyphs">547</text>
<text x="90.8" y="444.3" font-size="15.2" textLength="27" lengthAdjust="spacingAndGlyphs">547</text>
<text x="189.3" y="288" font-size="15.2" textLength="34.8" lengthAdjust="spacingAndGlyphs">1024</text>
<text x="250.6" y="101.8" font-size="15.2" textLength="34.6" lengthAdjust="spacingAndGlyphs">1363</text>
<text x="252.2" y="175.9" font-size="15.2" textLength="35" lengthAdjust="spacingAndGlyphs">1481</text>
<text x="168.6" y="327.9" font-size="15.2" textLength="27.6" lengthAdjust="spacingAndGlyphs">800</text>
<text x="238.2" y="324.2" font-size="15.2" textLength="35" lengthAdjust="spacingAndGlyphs">1300</text>
<text x="167.6" y="346.9" font-size="15.2" textLength="103" lengthAdjust="spacingAndGlyphs">Sulfate groups</text>
<text x="272.2" y="374.1" font-size="15.2" textLength="34.9" lengthAdjust="spacingAndGlyphs">1640</text>
<text x="175.6" y="470.6" font-size="15.2" textLength="27" lengthAdjust="spacingAndGlyphs">689</text>
<text x="146.8" y="497" font-size="15.2" textLength="27" lengthAdjust="spacingAndGlyphs">613</text>
<text x="447.3" y="280.8" font-size="16">2980</text>
<text x="544.6" y="267.4" font-size="16">3706</text>
<text x="491.5" y="334.5" font-size="16">3310</text>
<text x="515.2" y="150.7" font-size="16">3354</text>
<line x1="123.6" y1="218.5" x2="134.5" y2="231.8" stroke="#000" stroke-width="1.4"/>
<polygon points="140.9,239.5 131.4,233.0 136.4,229.0" fill="#000"/>
<line x1="124.4" y1="445.2" x2="134.6" y2="459.0" stroke="#000" stroke-width="1.4"/>
<polygon points="140.5,467.0 131.4,460.1 136.6,456.3" fill="#000"/>
<line x1="202.4" y1="267.8" x2="206.0" y2="256.0" stroke="#000" stroke-width="1.4"/>
<polygon points="208.9,246.4 208.7,257.9 202.6,256.0" fill="#000"/>
<line x1="263.5" y1="102.3" x2="259.4" y2="113.0" stroke="#000" stroke-width="1.4"/>
<polygon points="255.8,122.3 256.7,110.9 262.7,113.2" fill="#000"/>
<line x1="531.1" y1="138.9" x2="522.2" y2="129.1" stroke="#000" stroke-width="1.4"/>
<polygon points="515.5,121.7 525.3,127.7 520.5,132.0" fill="#000"/>
<rect x="495.3" y="356.3" width="148.4" height="136" fill="#fff" stroke="#000" stroke-width="1.2"/>
<line x1="499" y1="371.7" x2="548.6" y2="371.7" stroke="#ff0000" stroke-width="2"/>
<text x="559.2" y="378.5" font-size="18">1</text>
<text x="587.2" y="378.5" font-size="18" textLength="54.3" lengthAdjust="spacingAndGlyphs">mg / L</text>
<line x1="499" y1="399.2" x2="548.6" y2="399.2" stroke="#0000ff" stroke-width="2"/>
<text x="560.2" y="406.0" font-size="18">5</text>
<text x="587.2" y="406.0" font-size="18" textLength="54.3" lengthAdjust="spacingAndGlyphs">mg / L</text>
<line x1="499" y1="425.8" x2="548.6" y2="425.8" stroke="#008080" stroke-width="2"/>
<text x="554.8" y="432.6" font-size="18" textLength="81.5" lengthAdjust="spacingAndGlyphs">10 mg / L</text>
<line x1="499" y1="453" x2="548.6" y2="453" stroke="#ff00ff" stroke-width="2"/>
<text x="554.8" y="459.8" font-size="18" textLength="81.5" lengthAdjust="spacingAndGlyphs">15 mg / L</text>
<line x1="499" y1="480.1" x2="548.6" y2="480.1" stroke="#808000" stroke-width="2"/>
<text x="554.8" y="486.90000000000003" font-size="18" textLength="81.5" lengthAdjust="spacingAndGlyphs">20 mg / L</text>
</svg>
</body></html>
